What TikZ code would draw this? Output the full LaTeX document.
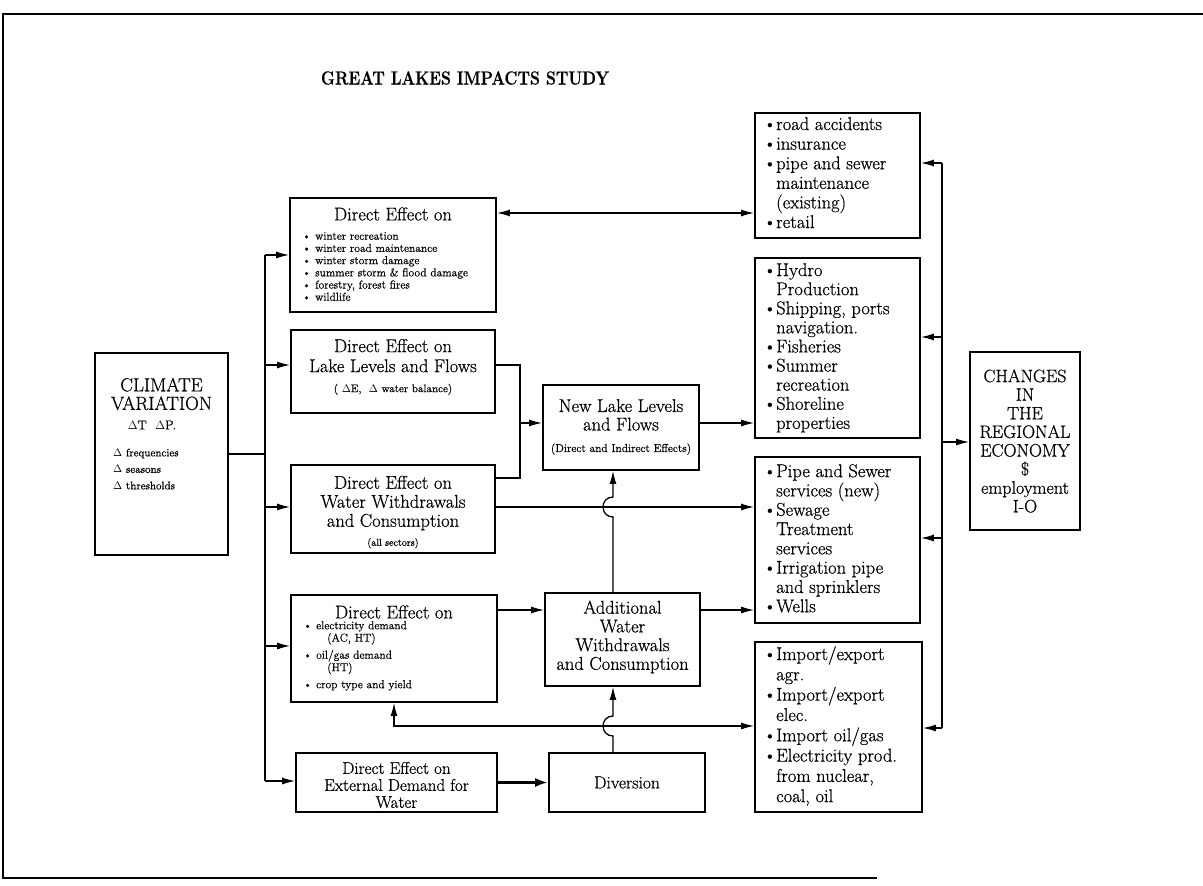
\documentclass[tikz,border=0pt]{standalone}
\usepackage{fontspec}
\setmainfont{Latin Modern Roman}[FakeBold=0.6]
\usepackage{graphicx}
\usetikzlibrary{arrows.meta}
\newcommand\fs[2]{\fontsize{#1}{#2}\selectfont}
\newcommand\bl{\makebox[13pt][l]{\textbullet}}
\newcommand\cl{\hspace*{13pt}}
\begin{document}
\begin{tikzpicture}[x=1pt,y=-1pt,
  box/.style={draw, line width=1.8pt, inner sep=0pt},
  conn/.style={line width=1.3pt},
  arr/.style={conn,-{Latex[length=13pt,width=7pt]}},
  darr/.style={conn,{Latex[length=13pt,width=7pt]}-{Latex[length=13pt,width=7pt]}},
  frame/.style={line width=1.6pt},
  head/.style={align=center, inner sep=0pt, font=\fs{18.5}{19.5}},
  small/.style={align=left, inner sep=0pt, font=\fs{11.5}{12.2}},
  list/.style={align=left, inner sep=0pt, font=\fs{18.5}{19.6}},
]
\useasboundingbox (0,0) rectangle (1203,886);
% frame
\coordinate (ftl) at (3,14);
\coordinate (ftr) at (1203,14);
\coordinate (fbl) at (3,878);
\coordinate (fbr) at (877,878);
\draw[frame] (ftr) -- (ftl) -- (fbl) -- (fbr);
% title
\node[inner sep=0pt, font=\fs{19}{21}\bfseries] (title) at (465,78) {\scalebox{0.84}[1]{GREAT LAKES IMPACTS STUDY}};
% climate
\node[box, minimum width=133pt, minimum height=202pt] (clim) at (161.5,454) {};
\node[head, font=\fs{19}{18.5}] (climt) at (161.5,394) {CLIMATE\\VARIATION};
\node[inner sep=0pt, font=\fs{13}{14}] (climd) at (152,425) {$\Delta$T\ \ $\Delta$P.};
\node[small, anchor=west, font=\fs{11}{16.5}] (climl) at (113,469) {$\Delta$ frequencies\\$\Delta$ seasons\\$\Delta$ thresholds};
% direct effect boxes
\node[box, minimum width=206pt, minimum height=114pt] (de1) at (393,255) {};
\node[head] (de1h) at (393,214) {Direct Effect on};
\node[small, anchor=north west] (de1l) at (302,232) {\bl winter recreation\\\bl winter road maintenance\\\bl winter storm damage\\\bl summer storm \& flood damage\\\bl forestry, forest fires\\\bl wildlife};
\node[box, minimum width=204pt, minimum height=83pt] (dell) at (393,371.5) {};
\node[head, font=\fs{18.5}{20}] (dellt) at (393,367) {Direct Effect on\\Lake Levels and Flows\\{\fs{11}{12}( $\Delta$E,\ \ $\Delta$ water balance)}};
\node[box, minimum width=204pt, minimum height=88pt] (dew) at (393,509) {};
\node[head, font=\fs{18.5}{19}] (dewt) at (393,512) {Direct Effect on\\Water Withdrawals\\and Consumption\\{\fs{10}{11}(all sectors)}};
\node[box, minimum width=206pt, minimum height=107pt] (dee) at (394,648.5) {};
\node[head] (deeh) at (394,612) {Direct Effect on};
\node[small, anchor=north west, font=\fs{11.5}{12.5}] (deel) at (303,621) {\bl electricity demand\\\hspace*{24pt}(AC, HT)\\[4.5pt]\bl oil/gas demand\\\hspace*{24pt}(HT)\\[4.5pt]\bl crop type and yield};
\node[box, minimum width=201pt, minimum height=59pt] (dex) at (396.5,782.5) {};
\node[head, font=\fs{17}{17}] (dext) at (396.5,785) {Direct Effect on\\External Demand for\\Water};
% middle column
\node[box, minimum width=156pt, minimum height=59pt, font=\fs{17.5}{18}] (div) at (627,782.5) {Diversion};
\node[box, minimum width=156pt, minimum height=85pt] (nll) at (621,427.5) {};
\node[head, font=\fs{18.5}{18.5}] (nllt) at (621,427) {New Lake Levels\\and Flows\\[3pt]{\fs{11.5}{12}(Direct and Indirect Effects)}};
\node[box, minimum width=155pt, minimum height=93pt] (add) at (622.5,639.5) {};
\node[head, font=\fs{18.5}{18.7}] (addt) at (622.5,637) {Additional\\Water\\Withdrawals\\and Consumption};
% right column
\node[box, minimum width=165pt, minimum height=125pt] (rb1) at (837.5,175.5) {};
\node[list, anchor=north west] (rb1t) at (763,117) {\bl road accidents\\\bl insurance\\\bl pipe and sewer\\\cl maintenance\\\cl (existing)\\\bl retail};
\node[box, minimum width=165pt, minimum height=180pt] (rb2) at (837.5,348) {};
\node[list, anchor=north west, font=\fs{18.5}{19.1}] (rb2t) at (763,263) {\bl Hydro\\\cl Production\\\bl Shipping, ports\\\cl navigation.\\\bl Fisheries\\\bl Summer\\\cl recreation\\\bl Shoreline\\\cl properties};
\node[box, minimum width=165pt, minimum height=166pt] (rb3) at (837.5,540) {};
\node[list, anchor=north west, font=\fs{18.5}{19.3}] (rb3t) at (763,464) {\bl Pipe and Sewer\\\cl services (new)\\\bl Sewage\\\cl Treatment\\\cl services\\\bl Irrigation pipe\\\cl and sprinklers\\\bl Wells};
\node[box, minimum width=167pt, minimum height=170pt] (rb4) at (838.5,727) {};
\node[list, anchor=north west, font=\fs{18.5}{20.3}] (rb4t) at (763,646) {\bl Import/export\\\cl agr.\\\bl Import/export\\\cl elec.\\\bl Import oil/gas\\\bl Electricity prod.\\\cl from nuclear,\\\cl coal, oil};
\node[box, minimum width=110pt, minimum height=178pt] (chg) at (1025,441) {};
\node[head, font=\fs{18}{18.6}] (chgt) at (1025,441) {CHANGES\\IN\\THE\\REGIONAL\\ECONOMY\\\$\\employment\\I-O};
% left bus
\coordinate (b1) at (265,255);
\coordinate (b2) at (265,365);
\coordinate (b3) at (265,507);
\coordinate (b4) at (265,646);
\coordinate (b5) at (265,781);
\coordinate (bc) at (265,454);
\draw[conn] (b1) -- (b5);
\draw[conn] (clim.east) -- (bc);
\draw[arr] (b1) -- (b1 -| de1.west);
\draw[arr] (b2) -- (b2 -| dell.west);
\draw[arr] (b3) -- (b3 -| dew.west);
\draw[arr] (b4) -- (b4 -| dee.west);
\draw[arr] (b5) -- (b5 -| dex.west);
% top double arrow
\coordinate (t1) at (500,213);
\draw[darr] (de1.east |- t1) -- (rb1.west |- t1);
% lake levels merge
\coordinate (j1) at (520,365);
\coordinate (j2) at (520,478);
\coordinate (j3) at (520,423);
\draw[conn] (dell.east |- j1) -- (j1) -- (j2) -- (dew.east |- j2);
\draw[arr] (j3) -- (j3 -| nll.west);
\draw[arr] (nll.east |- j3) -- (rb2.west |- j3);
% withdrawals to right
\coordinate (w1) at (500,507);
\draw[arr] (dew.east |- w1) -- (rb3.west |- w1);
% additional up to new lake, with hop
\coordinate (h1) at (613,507);
\draw[arr] (add.north -| h1) -- (613,517) .. controls (599.7,517) and (599.7,497) .. (613,497) -- (nll.south -| h1);
% energy row
\coordinate (e1) at (500,610);
\draw[arr] (dee.east |- e1) -- (add.west |- e1);
\draw[arr] (add.east |- e1) -- (rb3.west |- e1);
\coordinate (k1) at (394,726);
\draw[darr] (dee.south) -- (k1) -- (k1 -| rb4.west);
\draw[arr] (div.north -| h1) -- (613,736) .. controls (599.7,736) and (599.7,716) .. (613,716) -- (add.south -| h1);
\draw[conn, line width=3pt, -{Latex[length=13pt,width=9pt]}] (dex.east) -- (div.west);
% right bus
\coordinate (r1) at (942,163);
\coordinate (r2) at (942,337);
\coordinate (r3) at (942,538);
\coordinate (r4) at (942,728);
\coordinate (rc) at (942,442);
\draw[conn] (r1) -- (r4);
\draw[arr] (r1) -- (r1 -| rb1.east);
\draw[arr] (r2) -- (r2 -| rb2.east);
\draw[arr] (r3) -- (r3 -| rb3.east);
\draw[arr] (r4) -- (r4 -| rb4.east);
\draw[arr] (rc) -- (rc -| chg.west);
\end{tikzpicture}
\end{document}
